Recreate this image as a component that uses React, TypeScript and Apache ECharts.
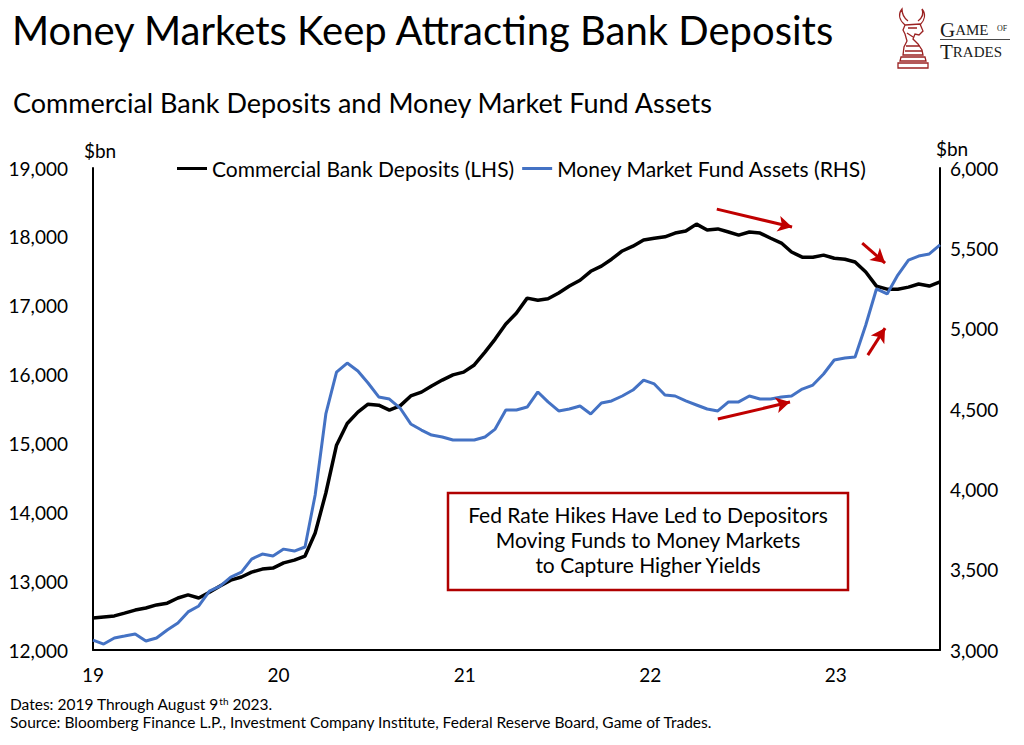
import React, { useEffect, useRef } from "react";
import * as echarts from "echarts";

// ---- time grid (sampling positions, every ~3 weeks, in days since 2019-01-01) ----
const START = Date.UTC(2019, 0, 1);
const DAY = 86400000;
const SPAN_DAYS = 1666;
const STEPS = 80;

const YEAR_TICKS = [2019, 2020, 2021, 2022, 2023];

// ---- series values ($bn) ----
const deposits = [
  12465, 12480, 12495, 12535, 12580, 12610, 12655, 12680, 12755, 12800,
  12755, 12840, 12930, 13015, 13060, 13130, 13175, 13190, 13265, 13305,
  13365, 13700, 14280, 14975, 15290, 15455, 15570, 15555, 15485, 15545,
  15690, 15745, 15835, 15920, 15995, 16035, 16140, 16325, 16515, 16735,
  16895, 17110, 17080, 17100, 17185, 17285, 17370, 17500, 17575, 17675,
  17795, 17865, 17955, 17980, 18000, 18055, 18085, 18185, 18100, 18115,
  18070, 18025, 18070, 18055, 17980, 17910, 17780, 17705, 17705, 17735,
  17690, 17675, 17635, 17490, 17285, 17240, 17240, 17270, 17315, 17285,
  17345,
];

const mmfAssets = [
  3062, 3037, 3075, 3087, 3100, 3056, 3075, 3124, 3168, 3237,
  3274, 3367, 3398, 3454, 3485, 3566, 3597, 3585, 3628, 3616,
  3641, 3965, 4469, 4730, 4786, 4737, 4662, 4575, 4562, 4506,
  4407, 4369, 4338, 4326, 4307, 4307, 4307, 4326, 4375, 4494,
  4494, 4512, 4606, 4544, 4488, 4500, 4519, 4469, 4537, 4550,
  4581, 4618, 4680, 4656, 4587, 4581, 4550, 4525, 4500, 4488,
  4544, 4544, 4581, 4562, 4562, 4575, 4581, 4624, 4649, 4718,
  4805, 4817, 4824, 5023, 5247, 5216, 5334, 5427, 5452, 5465,
  5521,
];

// ---- annotation arrows (date, LHS value) ----
const arrows = [
  { from: ["2022-05-12", 18403], to: ["2022-10-07", 18142] },
  { from: ["2023-02-22", 17910], to: ["2023-04-08", 17619] },
  { from: ["2023-03-05", 16283], to: ["2023-04-08", 16675] },
  { from: ["2022-05-14", 15354], to: ["2022-10-03", 15601] },
];

const TITLE = "Money Markets Keep Attracting Bank Deposits";
const SUBTITLE = "Commercial Bank Deposits and Money Market Fund Assets";
const SERIES_NAMES = ["Commercial Bank Deposits (LHS)", "Money Market Fund Assets (RHS)"];
const BOX_LINES = [
  "Fed Rate Hikes Have Led to Depositors",
  "Moving Funds to Money Markets",
  "to Capture Higher Yields",
];

const FONT = "Lato";
const SERIF = "Liberation Serif";
const RED = "#C00000";
const BLUE = "#4472C4";

const LOGO_PATH =
  "M9 17 C3 12 2 6 6 1 C6 6 8 10 12 13 " +
  "M22 13 C26 10 28 6 26 1 C30 6 29 12 24 17 " +
  "M9 17 L24 16 L27 23 L23 27 L19 26 L17 31 L22 36 L26 42 L27 47 L7 47 L8 39 L11 33 L9 26 L7 22 Z " +
  "M12 20 L21 20 M11 25 L17 29 M10 38 L24 38 M9 43 L26 43 " +
  "M5 49 L29 49 L30 53 L4 53 Z M2 55 L32 55 L32 60 L2 60 Z";

echarts.graphic.registerShape("logo", echarts.graphic.extendPath(LOGO_PATH, {}));

function fmtThousands(v: number) {
  return String(v).replace(/\B(?=(\d{3})+(?!\d))/g, ",");
}

function dayOffset(s: string) {
  const [y, m, d] = s.split("-").map(Number);
  return Math.round((Date.UTC(y, m - 1, d) - START) / DAY);
}

const yearStartDays = YEAR_TICKS.map((y) => Math.round((Date.UTC(y, 0, 1) - START) / DAY));

export default function App() {
  const ref = useRef<HTMLDivElement>(null);

  useEffect(() => {
    if (!ref.current) return;
    const chart = echarts.init(ref.current, undefined, { renderer: "svg" });

    const xs = deposits.map((_, i) => Math.round((i * SPAN_DAYS) / STEPS));

    const option: any = {
      animation: false,
      backgroundColor: "#ffffff",
      title: [
        {
          text: TITLE,
          left: 7,
          top: 5,
          textStyle: { fontFamily: FONT, fontSize: 40, fontWeight: "normal", color: "#000" },
        },
        {
          text: SUBTITLE,
          left: 8,
          top: 84,
          textStyle: { fontFamily: FONT, fontSize: 27, fontWeight: "normal", color: "#000" },
        },
      ],
      legend: {
        data: SERIES_NAMES,
        left: 172,
        top: 153,
        icon: "rect",
        itemWidth: 30,
        itemHeight: 3,
        itemGap: 8,
        textStyle: { fontFamily: FONT, fontSize: 21, color: "#000" },
      },
      grid: {
        left: 93,
        right: 84,
        top: 168,
        bottom: 95,
        containLabel: false,
        outerBoundsMode: "none",
      },
      xAxis: {
        type: "value",
        min: 0,
        max: SPAN_DAYS,
        axisLine: { show: true, onZero: false, lineStyle: { color: "#000", width: 2 } },
        axisTick: { show: false },
        splitLine: { show: false },
        axisLabel: {
          customValues: yearStartDays,
          formatter: (v: number) => {
            const k = yearStartDays.indexOf(Math.round(v));
            return k >= 0 ? String(YEAR_TICKS[k] % 100) : "";
          },
          fontFamily: FONT,
          fontSize: 19,
          color: "#000",
          margin: 15,
        },
      },
      yAxis: [
        {
          type: "value",
          min: 12000,
          max: 19000,
          interval: 1000,
          position: "left",
          name: "$bn",
          nameLocation: "end",
          nameGap: 8,
          nameTextStyle: { fontFamily: FONT, fontSize: 19, color: "#000", padding: [0, 0, 0, 14] },
          axisLine: { show: true, lineStyle: { color: "#000", width: 2 } },
          axisTick: { show: false },
          splitLine: { show: false },
          axisLabel: {
            formatter: (v: number) => fmtThousands(v),
            fontFamily: FONT,
            fontSize: 19,
            color: "#000",
            margin: 25,
          },
        },
        {
          type: "value",
          min: 3000,
          max: 6000,
          interval: 500,
          position: "right",
          name: "$bn",
          nameLocation: "end",
          nameGap: 10,
          nameTextStyle: { fontFamily: FONT, fontSize: 19, color: "#000", padding: [0, 0, 0, 24] },
          axisLine: { show: true, lineStyle: { color: "#000", width: 2 } },
          axisTick: { show: false },
          splitLine: { show: false },
          axisLabel: {
            formatter: (v: number) => fmtThousands(v),
            fontFamily: FONT,
            fontSize: 19,
            color: "#000",
            margin: 10,
          },
        },
      ],
      series: [
        {
          name: SERIES_NAMES[0],
          type: "line",
          yAxisIndex: 0,
          data: deposits.map((v, i) => [xs[i], v]),
          symbol: "none",
          showSymbol: false,
          lineStyle: { color: "#000", width: 3.5 },
          itemStyle: { color: "#000" },
          markLine: {
            silent: true,
            symbol: ["none", "arrow"],
            symbolSize: [12, 14],
            label: { show: false },
            emphasis: { disabled: true },
            lineStyle: { color: RED, width: 3, type: "solid" },
            data: arrows.map((a) => [
              { coord: [dayOffset(a.from[0] as string), a.from[1]] },
              { coord: [dayOffset(a.to[0] as string), a.to[1]] },
            ]),
          },
        },
        {
          name: SERIES_NAMES[1],
          type: "line",
          yAxisIndex: 1,
          data: mmfAssets.map((v, i) => [xs[i], v]),
          symbol: "none",
          showSymbol: false,
          lineStyle: { color: BLUE, width: 3 },
          itemStyle: { color: BLUE },
        },
      ],
      graphic: [
        {
          type: "rect",
          shape: { x: 448, y: 493, width: 400, height: 97 },
          style: { fill: "#fff", stroke: "#B00000", lineWidth: 2.5 },
          z: 10,
        },
        {
          type: "text",
          x: 648,
          y: 539,
          z: 11,
          style: {
            text: BOX_LINES.join("\n"),
            align: "center",
            verticalAlign: "middle",
            fontFamily: FONT,
            fontSize: 21,
            lineHeight: 25,
            fill: "#000",
          },
        },
        {
          type: "text",
          x: 10,
          y: 696,
          style: {
            text: "Dates: 2019 Through August 9{sup|th} 2023.",
            fontFamily: FONT,
            fontSize: 15.5,
            fill: "#000",
            rich: {
              sup: { fontFamily: FONT, fontSize: 10, verticalAlign: "top", fill: "#000" },
            },
          },
        },
        {
          type: "text",
          x: 10,
          y: 714,
          style: {
            text: "Source: Bloomberg Finance L.P., Investment Company Institute, Federal Reserve Board, Game of Trades.",
            fontFamily: FONT,
            fontSize: 15.5,
            fill: "#000",
          },
        },
        {
          type: "logo",
          x: 896,
          y: 8,
          scaleX: 1,
          scaleY: 1,
          style: { fill: "none", stroke: "#9B2222", lineWidth: 1.3 },
        },
        {
          type: "text",
          x: 940,
          y: 19,
          style: {
            text: "{big|G}{sm|AME}",
            fill: "#1a1a1a",
            rich: {
              big: { fontFamily: SERIF, fontSize: 21, fill: "#1a1a1a" },
              sm: { fontFamily: SERIF, fontSize: 15, fill: "#1a1a1a" },
            },
          },
        },
        {
          type: "text",
          x: 997,
          y: 24,
          style: { text: "OF", fontFamily: SERIF, fontSize: 8, fill: "#1a1a1a" },
        },
        {
          type: "line",
          shape: { x1: 940, y1: 39.5, x2: 1010, y2: 39.5 },
          style: { stroke: "#1a1a1a", lineWidth: 0.8 },
        },
        {
          type: "text",
          x: 940,
          y: 41,
          style: {
            text: "{big|T}{sm|RADES}",
            fill: "#1a1a1a",
            rich: {
              big: { fontFamily: SERIF, fontSize: 21, fill: "#1a1a1a" },
              sm: { fontFamily: SERIF, fontSize: 15, fill: "#1a1a1a" },
            },
          },
        },
      ],
    };

    chart.setOption(option);
    return () => chart.dispose();
  }, []);

  return (
    <div
      ref={ref}
      style={{ position: "fixed", left: 0, top: 0, width: 1024, height: 745, background: "#fff" }}
    />
  );
}
